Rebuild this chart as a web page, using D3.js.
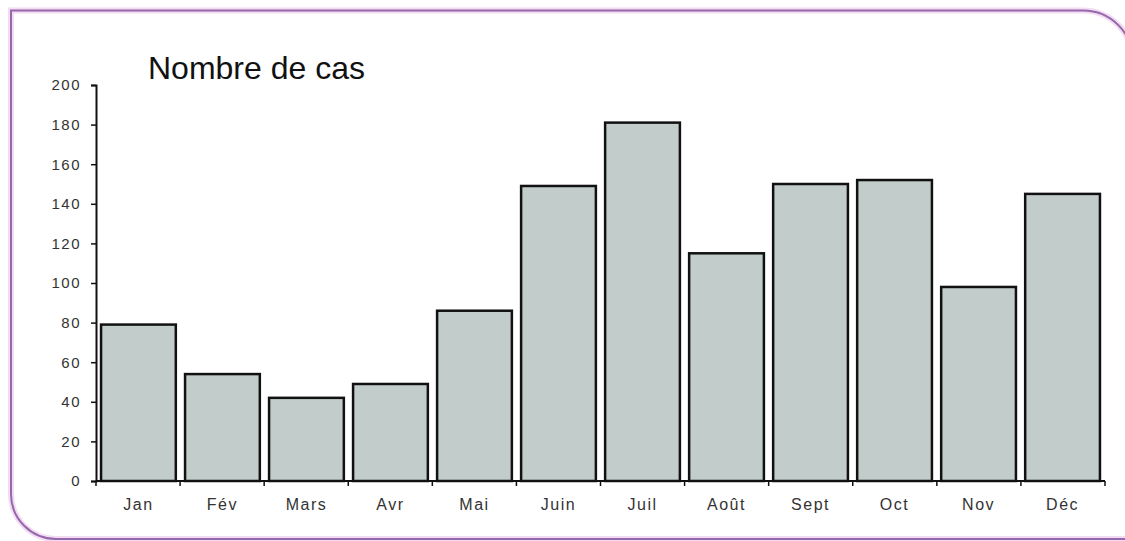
<!DOCTYPE html>
<html>
<head>
<meta charset="utf-8">
<script src="https://cdn.jsdelivr.net/npm/d3@7"></script>
<style>
  html, body { margin: 0; padding: 0; background: #fff; }
  svg { display: block; font-family: Arial, "Liberation Sans", sans-serif; }
  .tick text { fill: #333; }
</style>
</head>
<body>
<div id="chart"></div>
<script>
// Monthly case counts
const months = ['Jan', 'Fév', 'Mars', 'Avr', 'Mai', 'Juin', 'Juil', 'Août', 'Sept', 'Oct', 'Nov', 'Déc'];
const cases  = [79, 54, 42, 49, 86, 149, 181, 115, 150, 152, 98, 145];
const yTicks = [0, 20, 40, 60, 80, 100, 120, 140, 160, 180, 200];
const title = 'Nombre de cas';

const width = 1125, height = 541;
// plot box
const plot = { left: 96, right: 1105, top: 85, bottom: 481 };

const svg = d3.select('#chart').append('svg')
  .attr('width', width)
  .attr('height', height);

// Frame: square top-left, rounded top-right and bottom-left, right/bottom run off the image
function framePath() {
  const p = d3.path();
  const x0 = 11, y0 = 10.5, x1 = 1133, y1 = 539;
  const r1 = 50, r2 = 45;
  p.moveTo(x0, y0);
  p.lineTo(x1 - r1, y0);
  p.arc(x1 - r1, y0 + r1, r1, -Math.PI / 2, 0);
  p.lineTo(x1, y1);
  p.lineTo(x0 + r2, y1);
  p.arc(x0 + r2, y1 - r2, r2, Math.PI / 2, Math.PI);
  p.closePath();
  return p.toString();
}
svg.append('path').attr('d', framePath())
  .attr('fill', 'none').attr('stroke', '#f3dcf3').attr('stroke-width', 6);
svg.append('path').attr('d', framePath())
  .attr('fill', 'none').attr('stroke', '#9468ab').attr('stroke-width', 2);

const x = d3.scaleBand()
  .domain(months)
  .range([plot.left, plot.right])
  .paddingInner(0.11)
  .paddingOuter(0.06);

const y = d3.scaleLinear()
  .domain([0, 200])
  .range([plot.bottom, plot.top]);

// bars
svg.append('g').selectAll('rect')
  .data(months)
  .join('rect')
  .attr('x', d => x(d))
  .attr('y', (d, i) => y(cases[i]))
  .attr('width', x.bandwidth())
  .attr('height', (d, i) => y(0) - y(cases[i]))
  .attr('fill', '#c2cccb')
  .attr('stroke', '#111')
  .attr('stroke-width', 2.5);

// y axis
const yAxis = svg.append('g')
  .attr('transform', `translate(${plot.left},0)`)
  .call(d3.axisLeft(y).tickValues(yTicks).tickSize(5).tickPadding(10));
yAxis.select('.domain').attr('stroke', '#111').attr('stroke-width', 2);
yAxis.selectAll('.tick line').attr('stroke', '#111').attr('stroke-width', 1.5);
yAxis.selectAll('.tick text')
  .attr('font-size', 15).attr('letter-spacing', 1.5);

// x axis: baseline plus ticks at band boundaries
const bandEdges = d3.range(months.length + 1)
  .map(i => plot.left + i * (plot.right - plot.left) / months.length);
const xAxis = svg.append('g');
xAxis.append('line')
  .attr('x1', plot.left).attr('x2', plot.right)
  .attr('y1', y(0)).attr('y2', y(0))
  .attr('stroke', '#111').attr('stroke-width', 2);
xAxis.selectAll('line.tk')
  .data(bandEdges)
  .join('line')
  .attr('class', 'tk')
  .attr('x1', d => d).attr('x2', d => d)
  .attr('y1', y(0)).attr('y2', y(0) + 5)
  .attr('stroke', '#111').attr('stroke-width', 1.5);
xAxis.selectAll('text')
  .data(months)
  .join('text')
  .attr('x', d => x(d) + x.bandwidth() / 2)
  .attr('y', y(0) + 29)
  .attr('text-anchor', 'middle')
  .attr('font-size', 16)
  .attr('letter-spacing', 1.5)
  .attr('fill', '#333')
  .text(d => d);

// title
svg.append('text')
  .attr('x', 148)
  .attr('y', 79)
  .attr('font-size', 32)
  .attr('fill', '#111')
  .text(title);
</script>
</body>
</html>
